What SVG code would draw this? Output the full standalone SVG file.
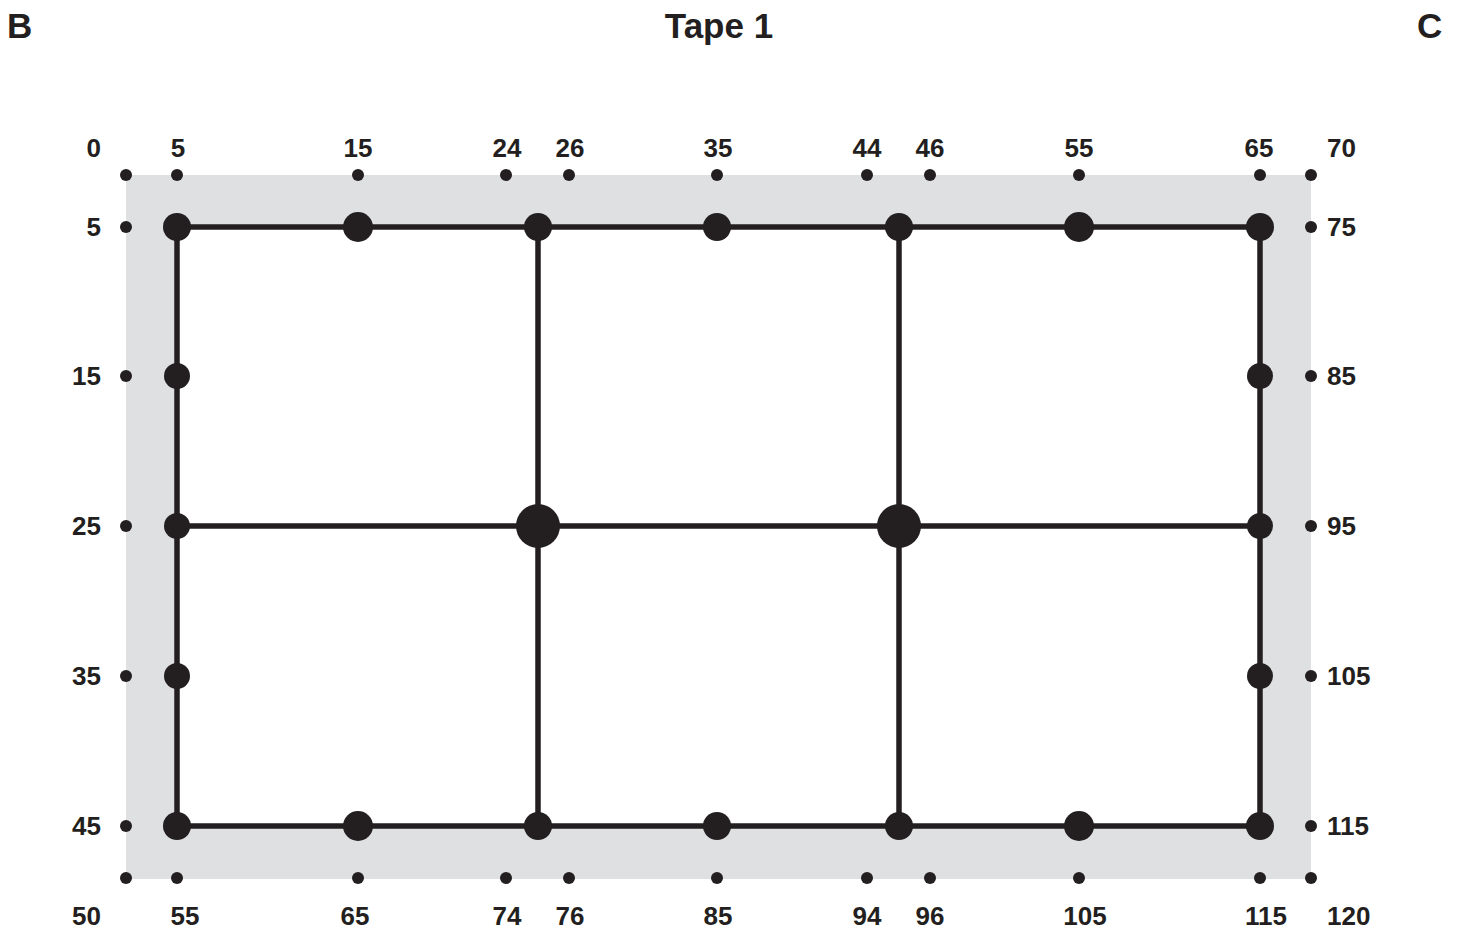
<svg xmlns="http://www.w3.org/2000/svg" width="1465" height="931" viewBox="0 0 1465 931">
<style>
text{font-family:"Liberation Sans",Arial,sans-serif;font-weight:bold;fill:#231f20}
.t{font-size:35px}
.l{font-size:26px}
.m{text-anchor:middle}
.e{text-anchor:end}
.s{text-anchor:start}
.d{fill:#231f20}
.n{fill:#231f20}
.c line{stroke:#231f20;stroke-width:5.5}
</style>
<rect x="0" y="0" width="1465" height="931" fill="#fff"/>
<text class="t" x="7" y="38">B</text>
<text class="t m" x="719" y="38">Tape 1</text>
<text class="t" x="1417" y="38">C</text>
<rect x="126" y="175" width="1185" height="704" fill="#dfe0e2"/>
<rect x="177" y="227" width="1083" height="599" fill="#fff"/>
<g id="connectors" class="c">
<line x1="177" y1="227" x2="1260" y2="227"/>
<line x1="177" y1="526" x2="1260" y2="526"/>
<line x1="177" y1="826" x2="1260" y2="826"/>
<line x1="177" y1="227" x2="177" y2="826"/>
<line x1="538" y1="227" x2="538" y2="826"/>
<line x1="899" y1="227" x2="899" y2="826"/>
<line x1="1260" y1="227" x2="1260" y2="826"/>
</g>
<g id="scale-dots" class="d">
<circle cx="126" cy="175" r="6"/><circle cx="177" cy="175" r="6"/><circle cx="358" cy="175" r="6"/><circle cx="506" cy="175" r="6"/><circle cx="569" cy="175" r="6"/><circle cx="717" cy="175" r="6"/><circle cx="867" cy="175" r="6"/><circle cx="930" cy="175" r="6"/><circle cx="1079" cy="175" r="6"/><circle cx="1260" cy="175" r="6"/><circle cx="1311" cy="175" r="6"/>
<circle cx="126" cy="878" r="6"/><circle cx="177" cy="878" r="6"/><circle cx="358" cy="878" r="6"/><circle cx="506" cy="878" r="6"/><circle cx="569" cy="878" r="6"/><circle cx="717" cy="878" r="6"/><circle cx="867" cy="878" r="6"/><circle cx="930" cy="878" r="6"/><circle cx="1079" cy="878" r="6"/><circle cx="1260" cy="878" r="6"/><circle cx="1311" cy="878" r="6"/>
<circle cx="126" cy="227" r="6"/><circle cx="126" cy="376" r="6"/><circle cx="126" cy="526" r="6"/><circle cx="126" cy="676" r="6"/><circle cx="126" cy="826" r="6"/>
<circle cx="1311" cy="227" r="6"/><circle cx="1311" cy="376" r="6"/><circle cx="1311" cy="526" r="6"/><circle cx="1311" cy="676" r="6"/><circle cx="1311" cy="826" r="6"/>
</g>
<g id="labels">
<text class="l e" x="101" y="157">0</text>
<text class="l m" x="178" y="157">5</text>
<text class="l m" x="358" y="157">15</text>
<text class="l m" x="507" y="157">24</text>
<text class="l m" x="570" y="157">26</text>
<text class="l m" x="718" y="157">35</text>
<text class="l m" x="867" y="157">44</text>
<text class="l m" x="930" y="157">46</text>
<text class="l m" x="1079" y="157">55</text>
<text class="l m" x="1259" y="157">65</text>
<text class="l s" x="1327" y="157">70</text>
<text class="l e" x="101" y="925">50</text>
<text class="l m" x="185" y="925">55</text>
<text class="l m" x="355" y="925">65</text>
<text class="l m" x="507" y="925">74</text>
<text class="l m" x="570" y="925">76</text>
<text class="l m" x="718" y="925">85</text>
<text class="l m" x="867" y="925">94</text>
<text class="l m" x="930" y="925">96</text>
<text class="l m" x="1085" y="925">105</text>
<text class="l m" x="1266" y="925">115</text>
<text class="l s" x="1327" y="925">120</text>
<text class="l e" x="101" y="236">5</text>
<text class="l e" x="101" y="385">15</text>
<text class="l e" x="101" y="535">25</text>
<text class="l e" x="101" y="685">35</text>
<text class="l e" x="101" y="835">45</text>
<text class="l s" x="1327" y="236">75</text>
<text class="l s" x="1327" y="385">85</text>
<text class="l s" x="1327" y="535">95</text>
<text class="l s" x="1327" y="685">105</text>
<text class="l s" x="1327" y="835">115</text>
</g>
<g id="node-5" class="n"><circle cx="177" cy="227" r="14"/></g>
<g id="node-15" class="n"><circle cx="358" cy="227" r="15"/></g>
<g id="node-25t" class="n"><circle cx="538" cy="227" r="14"/></g>
<g id="node-35" class="n"><circle cx="717" cy="227" r="14"/></g>
<g id="node-45t" class="n"><circle cx="899" cy="227" r="14"/></g>
<g id="node-55" class="n"><circle cx="1079" cy="227" r="15"/></g>
<g id="node-65" class="n"><circle cx="1260" cy="227" r="14"/></g>
<g id="node-l15" class="n"><circle cx="177" cy="376" r="13"/></g>
<g id="node-l25" class="n"><circle cx="177" cy="526" r="13"/></g>
<g id="node-l35" class="n"><circle cx="177" cy="676" r="13"/></g>
<g id="node-r85" class="n"><circle cx="1260" cy="376" r="13"/></g>
<g id="node-r95" class="n"><circle cx="1260" cy="526" r="13"/></g>
<g id="node-r105" class="n"><circle cx="1260" cy="676" r="13"/></g>
<g id="node-c1" class="n"><circle cx="538" cy="526" r="22"/></g>
<g id="node-c2" class="n"><circle cx="899" cy="526" r="22"/></g>
<g id="node-b55" class="n"><circle cx="177" cy="826" r="14"/></g>
<g id="node-b65" class="n"><circle cx="358" cy="826" r="15"/></g>
<g id="node-b75" class="n"><circle cx="538" cy="826" r="14"/></g>
<g id="node-b85" class="n"><circle cx="717" cy="826" r="14"/></g>
<g id="node-b95" class="n"><circle cx="899" cy="826" r="14"/></g>
<g id="node-b105" class="n"><circle cx="1079" cy="826" r="15"/></g>
<g id="node-b115" class="n"><circle cx="1260" cy="826" r="14"/></g>
</svg>
